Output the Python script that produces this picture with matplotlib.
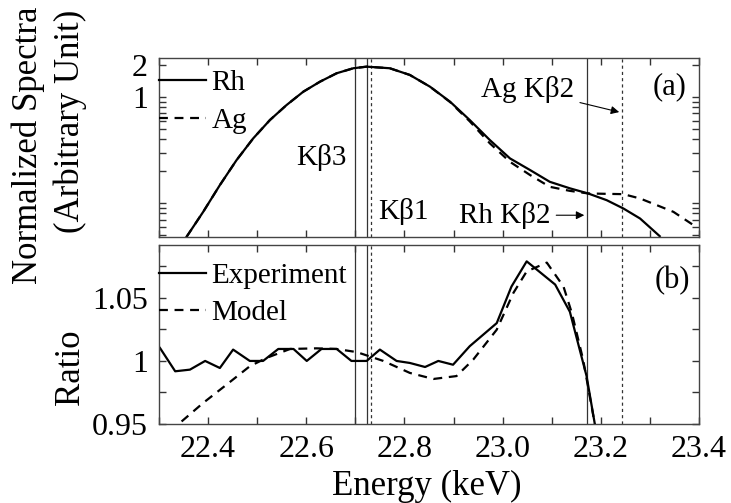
import matplotlib
matplotlib.use("Agg")
import matplotlib.pyplot as plt
from matplotlib.ticker import FixedLocator, MultipleLocator, NullFormatter, FormatStrFormatter

plt.rcParams["font.family"] = ["Liberation Serif", "DejaVu Serif"]

# (a) espectros normalizados
energia_rh = [22.356, 22.390, 22.424, 22.458, 22.492, 22.526, 22.560, 22.594, 22.628,
              22.662, 22.696, 22.723, 22.770, 22.811, 22.852, 22.893, 22.933, 22.974,
              23.015, 23.056, 23.096, 23.137, 23.174, 23.212, 23.246, 23.280, 23.320]
espectro_rh = [0.0481, 0.0828, 0.148, 0.2545, 0.408, 0.607, 0.841, 1.122, 1.394,
               1.674, 1.866, 1.931, 1.866, 1.613, 1.251, 0.903, 0.607, 0.393,
               0.264, 0.205, 0.159, 0.138, 0.1235, 0.1067, 0.0891, 0.0717, 0.0489]

energia_ag = [22.356, 22.390, 22.424, 22.458, 22.492, 22.526, 22.560, 22.594, 22.628,
              22.662, 22.696, 22.723, 22.770, 22.811, 22.852, 22.893, 22.933, 22.974,
              23.015, 23.056, 23.096, 23.137, 23.174, 23.212, 23.246, 23.280, 23.314,
              23.348, 23.389]
espectro_ag = [0.0481, 0.0828, 0.148, 0.2545, 0.408, 0.607, 0.841, 1.122, 1.394,
               1.674, 1.866, 1.931, 1.866, 1.613, 1.251, 0.895, 0.590, 0.366,
               0.245, 0.184, 0.1426, 0.1306, 0.1235, 0.1224, 0.1216, 0.1107, 0.0958,
               0.0828, 0.062]

# (b) cociente Rh/Ag
energia_exp = [22.302, 22.333, 22.363, 22.394, 22.424, 22.451, 22.485, 22.512, 22.543,
               22.574, 22.601, 22.631, 22.662, 22.692, 22.723, 22.750, 22.784, 22.811,
               22.842, 22.869, 22.899, 22.933, 22.988, 23.018, 23.049, 23.107, 23.137,
               23.171, 23.189]
ratio_exp = [1.0103, 0.9918, 0.9931, 1.000, 0.9944, 1.009, 1.000, 1.000, 1.0095,
             1.0095, 1.000, 1.0095, 1.0095, 1.000, 1.000, 1.009, 1.000, 0.9984,
             0.9952, 1.000, 0.997, 1.0117, 1.030, 1.059, 1.079, 1.0606, 1.039,
             0.988, 0.9473]

energia_mod = [22.346, 22.390, 22.437, 22.485, 22.519, 22.567, 22.621, 22.662, 22.703,
               22.757, 22.811, 22.859, 22.906, 22.940, 22.988, 23.022, 23.049, 23.090,
               23.124, 23.141, 23.164, 23.189]
ratio_mod = [0.952, 0.9667, 0.981, 0.9958, 1.0024, 1.0095, 1.010, 1.0095, 1.007,
             1.000, 0.9905, 0.9857, 0.988, 1.001, 1.0248, 1.054, 1.071, 1.078,
             1.059, 1.038, 1.001, 0.9473]

lineas_solidas = [22.700, 22.724, 23.172]
lineas_punteadas = [22.731, 23.243]

# marcas menores de la escala log
menores_log = [0.05, 0.06, 0.07, 0.08, 0.09, 0.1, 0.2, 0.3, 0.4, 0.5, 0.6, 0.7, 0.8, 0.9]

fig = plt.figure(figsize=(7.31, 5.03), dpi=100)
ax1 = fig.add_axes([0.2175, 0.5288, 0.7387, 0.3559])
ax2 = fig.add_axes([0.2175, 0.1571, 0.7387, 0.3559])

for ax in (ax1, ax2):
    for x in lineas_solidas:
        ax.axvline(x, color="#333333", lw=0.9)
    for x in lineas_punteadas:
        ax.axvline(x, color="#333333", lw=0.9, linestyle=(0, (2.5, 2.5)))

ax1.plot(energia_ag, espectro_ag, color="k", lw=1.6, linestyle=(0, (4, 3)), label="Ag")
ax1.plot(energia_rh, espectro_rh, color="k", lw=1.6, label="Rh")
ax1.set_yscale("log")
ax1.set_ylim(0.048, 2.33)
ax1.yaxis.set_major_locator(FixedLocator([1, 2]))
ax1.yaxis.set_major_formatter(FormatStrFormatter("%g"))
ax1.yaxis.set_minor_locator(FixedLocator(menores_log))
ax1.yaxis.set_minor_formatter(NullFormatter())

ax2.plot(energia_exp, ratio_exp, color="k", lw=1.6, label="Experiment")
ax2.plot(energia_mod, ratio_mod, color="k", lw=1.6, linestyle=(0, (4, 3)), label="Model")
ax2.set_ylim(0.95, 1.092)
ax2.yaxis.set_major_locator(FixedLocator([0.95, 1.0, 1.05]))
ax2.yaxis.set_major_formatter(FormatStrFormatter("%g"))
ax2.yaxis.set_minor_locator(FixedLocator([0.975, 1.025, 1.075]))

for ax in (ax1, ax2):
    ax.set_xlim(22.3, 23.4)
    ax.xaxis.set_major_locator(MultipleLocator(0.2))
    ax.xaxis.set_minor_locator(MultipleLocator(0.1))
    ax.xaxis.set_major_formatter(FormatStrFormatter("%.1f"))
    ax.tick_params(which="both", direction="in", top=True, right=True, labelsize=23, pad=8,
                   length=5, width=1.0, color="#333333")
    ax.tick_params(which="minor", labelleft=False, labelbottom=False)
    for s in ax.spines.values():
        s.set_linewidth(1.0)
        s.set_color("#444444")
ax1.tick_params(labelbottom=False)

# leyendas
h, l = ax1.get_legend_handles_labels()
ax1.legend(h[::-1], l[::-1], loc="upper left", bbox_to_anchor=(0, 0.935), borderaxespad=0,
           borderpad=0, frameon=False, fontsize=21, handlelength=1.6, handletextpad=0.2,
           labelspacing=0.4)
ax2.legend(loc="upper left", bbox_to_anchor=(0, 0.90), borderaxespad=0, borderpad=0,
           frameon=False, fontsize=21, handlelength=1.6, handletextpad=0.2, labelspacing=0.35)

# etiquetas de las lineas
ax1.text(22.683, 0.272, "Kβ3", fontsize=21, ha="right", va="center")
ax1.text(22.746, 0.084, "Kβ1", fontsize=21, ha="left", va="center")
ax1.annotate("Ag Kβ2", xy=(23.243, 0.711), xytext=(23.0515, 1.164), fontsize=21,
             ha="center", va="center",
             arrowprops=dict(arrowstyle="-|>", color="k", lw=0.8, mutation_scale=12))
ax1.annotate("Rh Kβ2", xy=(23.172, 0.077), xytext=(23.0047, 0.077), fontsize=21,
             ha="center", va="center",
             arrowprops=dict(arrowstyle="-|>", color="k", lw=0.8, mutation_scale=12))
ax1.text(23.341, 1.243, "(a)", fontsize=22, ha="center", va="center")
ax2.text(23.345, 1.0635, "(b)", fontsize=22, ha="center", va="center")

# titulos de ejes
fig.text(28 / 731, 1 - 7 / 503, "Normalized Spectra", rotation=90, ha="center", va="top", fontsize=25)
fig.text(70 / 731, 1 - 10 / 503, "(Arbitrary Unit)", rotation=90, ha="center", va="top", fontsize=25)
fig.text(70 / 731, 1 - 367 / 503, "Ratio", rotation=90, ha="center", va="center", fontsize=25)
fig.text(427 / 731, 1 - 486 / 503, "Energy (keV)", ha="center", va="center", fontsize=25)

plt.savefig("out.png", dpi=100)
